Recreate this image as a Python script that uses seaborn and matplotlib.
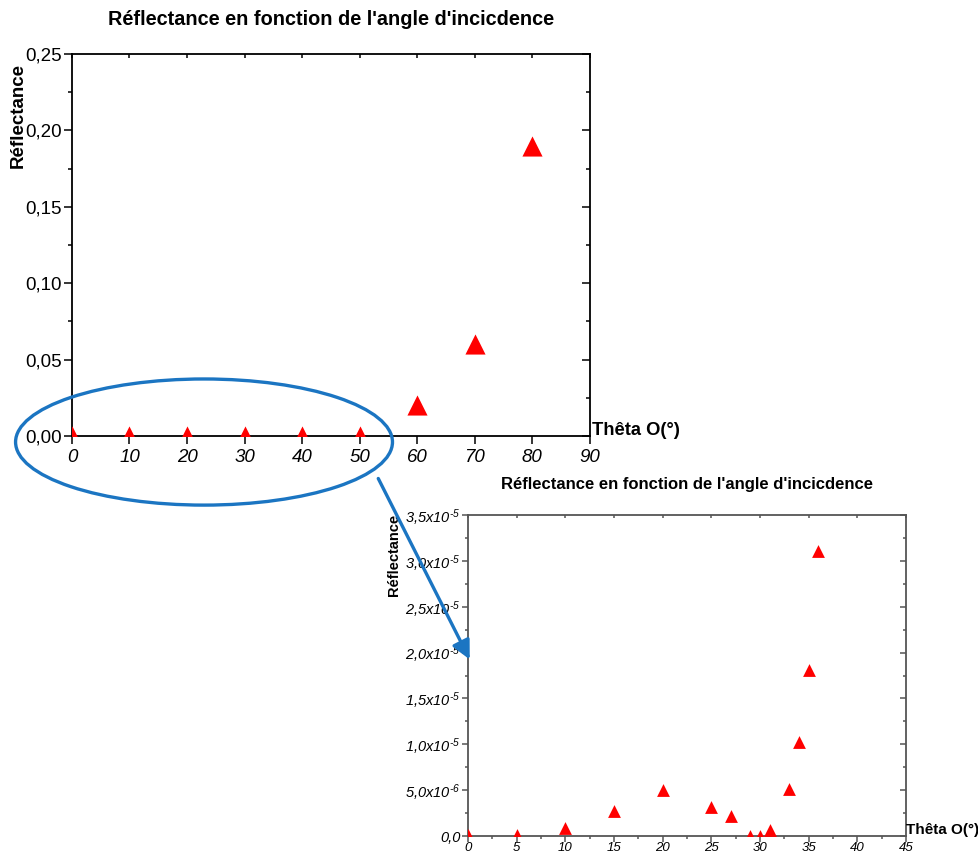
import pandas as pd
import seaborn as sns
import matplotlib.pyplot as plt
from matplotlib.patches import Ellipse, FancyArrowPatch

# Full range: reflectance vs angle of incidence
theta_full = [0, 10, 20, 30, 40, 50, 60, 70, 80]
refl_full = [0.0, 0.000001, 0.000005, 0.0000002, 0.0, 0.0, 0.020, 0.060, 0.190]
full_xticks = [0, 10, 20, 30, 40, 50, 60, 70, 80, 90]
full_yticks = [0.0, 0.05, 0.10, 0.15, 0.20, 0.25]
full_ylabels = ["0,00", "0,05", "0,10", "0,15", "0,20", "0,25"]

# Zoom on small angles
theta_zoom = [0, 5, 10, 15, 20, 25, 27, 29, 30, 31, 33, 34, 35, 36]
refl_zoom = [0.1e-6, 0.1e-6, 0.9e-6, 2.7e-6, 5.05e-6, 3.2e-6, 2.15e-6,
             0.05e-6, 0.05e-6, 0.65e-6, 5.15e-6, 10.2e-6, 18.1e-6, 31.1e-6]
zoom_xticks = [0, 5, 10, 15, 20, 25, 30, 35, 40, 45]
zoom_yticks = [0.0, 5e-6, 1e-5, 1.5e-5, 2e-5, 2.5e-5, 3e-5, 3.5e-5]
zoom_ylabels = ["0,0", "5,0x10$^{\u2010 6}$", "1,0x10$^{\u2010 5}$", "1,5x10$^{\u2010 5}$",
                "2,0x10$^{\u2010 5}$", "2,5x10$^{\u2010 5}$", "3,0x10$^{\u2010 5}$", "3,5x10$^{\u2010 5}$"]

title = "Réflectance en fonction de l'angle d'incicdence"

sns.set_style("white")
plt.rcParams['font.family'] = ['Liberation Sans', 'DejaVu Sans']
plt.rcParams['text.color'] = 'black'
plt.rcParams['axes.labelcolor'] = 'black'
plt.rcParams['xtick.color'] = 'black'
plt.rcParams['ytick.color'] = 'black'
plt.rcParams['mathtext.fontset'] = 'custom'
plt.rcParams['mathtext.it'] = 'Liberation Sans:italic'
plt.rcParams['mathtext.rm'] = 'Liberation Sans:italic'
plt.rcParams['mathtext.default'] = 'it'

blue = '#1b75c2'

fig = plt.figure(figsize=(9.79, 8.58), dpi=100)
ax1 = fig.add_axes([0.0735, 0.4918, 0.529, 0.4452])
ax2 = fig.add_axes([0.478, 0.0256, 0.4474, 0.3741])


def style_axes(ax, edge, xticks, yticks, ylabels, xminor, yminor, fs, xfs, ystyle, major_len, xpad):
    ax.set_xticks(xticks, [str(t) for t in xticks], fontstyle='italic', fontsize=xfs)
    ax.set_yticks(yticks, ylabels, fontsize=fs, fontstyle=ystyle)
    if xminor is not None:
        ax.set_xticks(xminor, minor=True)
    ax.set_yticks(yminor, minor=True)
    for s in ax.spines.values():
        s.set_color(edge)
        s.set_linewidth(1.3)
    ax.tick_params(which='major', direction='out', length=major_len, width=1.1,
                   color=edge, pad=1.5, bottom=True, left=True)
    ax.tick_params(axis='x', which='major', pad=xpad)
    ax.tick_params(which='minor', direction='out', length=major_len * 0.55, width=1.1,
                   color=edge, bottom=True, left=True)
    ax.set_xlabel("")
    ax.set_ylabel("")
    # inward ticks on top and right like the original software
    top = ax.secondary_xaxis('top')
    top.set_xticks(xticks, [""] * len(xticks))
    top.tick_params(direction='in', length=major_len * 0.55, width=1.1, color=edge)
    top.spines['top'].set_visible(False)
    right = ax.secondary_yaxis('right')
    right.set_yticks(yticks, [""] * len(yticks))
    if yminor is not None:
        right.set_yticks(yminor, minor=True)
    right.tick_params(which='major', direction='in', length=major_len, width=1.1, color=edge)
    right.tick_params(which='minor', direction='in', length=major_len * 0.55, width=1.1, color=edge)
    right.spines['right'].set_visible(False)


# Top chart
df_full = pd.DataFrame({"theta": theta_full, "R": refl_full})
sns.scatterplot(data=df_full, x="theta", y="R", ax=ax1, marker='^', s=210,
                color='red', linewidth=0, zorder=3)
ax1.set_xlim(0, 90)
ax1.set_ylim(0, 0.25)
style_axes(ax1, 'black', full_xticks, full_yticks, full_ylabels, None,
           [0.025, 0.075, 0.125, 0.175, 0.225], 13.5, 13.5, 'normal', 5.5, 3.5)
ax1.set_title(title, fontsize=14.3, fontweight='bold', pad=21)
ax1.set_ylabel("Réflectance", fontsize=13.5, fontweight='bold')
ax1.yaxis.set_label_coords(-0.088, 0.84)
ax1.text(1.004, 0.014, "Thêta O(°)", transform=ax1.transAxes, fontsize=13.2,
         fontweight='bold', ha='left', va='center')

# Bottom chart (zoom)
df_zoom = pd.DataFrame({"theta": theta_zoom, "R": refl_zoom})
sns.scatterplot(data=df_zoom, x="theta", y="R", ax=ax2, marker='^', s=85,
                color='red', linewidth=0, zorder=3)
ax2.set_xlim(0, 45)
ax2.set_ylim(0, 3.5e-5)
style_axes(ax2, '#555555', zoom_xticks, zoom_yticks, zoom_ylabels,
           [2.5 + 5 * i for i in range(9)], [2.5e-6 + 5e-6 * i for i in range(7)],
           10.5, 9.5, 'italic', 4, 0.5)
ax2.set_title(title, fontsize=12, fontweight='bold', pad=19)
ax2.set_ylabel("Réflectance", fontsize=10.5, fontweight='bold')
ax2.yaxis.set_label_coords(-0.152, 0.875)
ax2.text(1.0, 0.019, "Thêta O(°)", transform=ax2.transAxes, fontsize=11,
         fontweight='bold', ha='left', va='center')

# Highlight ellipse and arrow
fig.add_artist(Ellipse((0.2084, 0.4848), 0.385, 0.147, transform=fig.transFigure,
                       fill=False, edgecolor=blue, linewidth=2.4, zorder=10))
fig.add_artist(FancyArrowPatch((0.3851, 0.4452), (0.4811, 0.2285),
                               transform=fig.transFigure, arrowstyle='-|>',
                               mutation_scale=28, linewidth=2.4, color=blue, zorder=10))

fig.savefig("out.png", dpi=100)
